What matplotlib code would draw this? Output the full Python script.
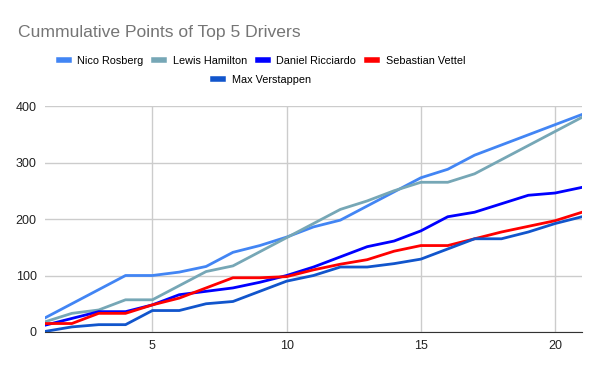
import matplotlib
matplotlib.use("Agg")
import matplotlib.pyplot as plt

plt.rcParams["font.family"] = ["Liberation Sans", "DejaVu Sans"]

races = list(range(1, 22))
rosberg = [25, 50, 75, 100, 100, 106, 116, 141, 153, 168, 186, 198, 223, 248, 273, 288, 313, 331, 349, 367, 385]
hamilton = [18, 33, 39, 57, 57, 82, 107, 117, 142, 167, 192, 217, 232, 250, 265, 265, 280, 305, 330, 355, 380]
ricciardo = [12, 24, 36, 36, 48, 66, 72, 78, 88, 100, 115, 133, 151, 161, 179, 204, 212, 227, 242, 246, 256]
vettel = [15, 15, 33, 33, 48, 60, 78, 96, 96, 98, 110, 120, 128, 143, 153, 153, 165, 177, 187, 197, 212]
verstappen = [1, 9, 13, 13, 38, 38, 50, 54, 72, 90, 100, 115, 115, 121, 129, 147, 165, 165, 177, 192, 204]

series = [
    ("Nico Rosberg", rosberg, "#4285f4"),
    ("Lewis Hamilton", hamilton, "#76a7b6"),
    ("Daniel Ricciardo", ricciardo, "#0000ff"),
    ("Sebastian Vettel", vettel, "#ff0000"),
    ("Max Verstappen", verstappen, "#1155cc"),
]

fig = plt.figure(figsize=(6, 3.71), dpi=100)
ax = fig.add_axes([45 / 600, 1 - 332 / 371, 537 / 600, 226 / 371])

for name, vals, col in series:
    ax.plot(races, vals, color=col, lw=2, label=name)

ax.set_xlim(1, 21)
ax.set_ylim(0, 400)
ax.set_xticks([5, 10, 15, 20])
ax.set_yticks([0, 100, 200, 300, 400])
ax.grid(color="#cccccc", lw=1)
ax.set_axisbelow(True)
for s in ["top", "right", "left"]:
    ax.spines[s].set_visible(False)
ax.spines["bottom"].set_color("#333333")
ax.tick_params(length=0, labelsize=9, colors="#222222", pad=6)

fig.text(18 / 600, 1 - 32 / 371, "Cummulative Points of Top 5 Drivers",
         fontsize=12.6, color="#757575", va="center")

h, l = ax.get_legend_handles_labels()
leg1 = fig.legend(h[:4], l[:4], loc="center", bbox_to_anchor=(262 / 600, 1 - 61 / 371),
                  ncol=4, frameon=False, fontsize=7.8, handlelength=0.9,
                  columnspacing=1.0, handletextpad=0.8)
for ln in leg1.get_lines():
    ln.set_linewidth(4)
leg2 = fig.legend(h[4:], l[4:], loc="center", bbox_to_anchor=(262 / 600, 1 - 80 / 371),
                  frameon=False, fontsize=7.8, handlelength=0.9, handletextpad=0.8)
for ln in leg2.get_lines():
    ln.set_linewidth(4)

fig.savefig("out.png", dpi=100)
